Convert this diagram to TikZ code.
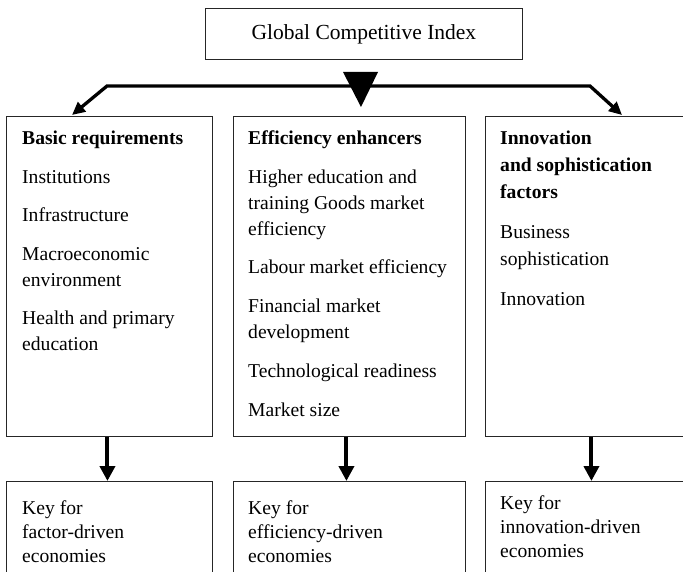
\documentclass[tikz,border=0pt]{standalone}
\usepackage{fontspec}
\setmainfont{Liberation Serif}
\usetikzlibrary{arrows.meta,calc}
\begin{document}
\begin{tikzpicture}[x=1pt,y=-1pt,
  box/.style={draw=black!85,line width=0.9pt,inner sep=0pt},
  txt/.style={anchor=north west,inner sep=0pt,align=left,font=\fontsize{19.6}{26}\selectfont},
  bus/.style={line width=3.3pt,line join=miter,{Triangle[length=13pt,width=12pt]}-{Triangle[length=13pt,width=12pt]}},
  down/.style={line width=4pt,-{Triangle[length=15pt,width=15pt]}}]
\clip (0,0) rectangle (683,572);
\fill[white] (0,0) rectangle (683,572);
% top box
\node[box,anchor=north west,minimum width=317pt,minimum height=51pt,font=\fontsize{21.5}{24}\selectfont] (T) at (205,8) {Global Competitive Index};
% pillar boxes
\node[box,anchor=north west,minimum width=206pt,minimum height=320pt] (A) at (6,116) {};
\node[box,anchor=north west,minimum width=232pt,minimum height=320pt] (B) at (233,116) {};
\node[box,anchor=north west,minimum width=212pt,minimum height=320pt] (C) at (485,116) {};
% key boxes
\node[box,anchor=north west,minimum width=206pt,minimum height=120pt] (A2) at (6,481) {};
\node[box,anchor=north west,minimum width=232pt,minimum height=120pt] (B2) at (233,481) {};
\node[box,anchor=north west,minimum width=212pt,minimum height=120pt] (C2) at (485,481) {};
% texts
\node[txt] (At) at (22,130.5) {\textbf{Basic requirements}\\[13pt]Institutions\\[12pt]Infrastructure\\[13pt]Macroeconomic\\environment\\[12pt]Health and primary\\education};
\node[txt] (Bt) at (248,130.5) {\textbf{Efficiency enhancers}\\[13pt]Higher education and\\training Goods market\\efficiency\\[12pt]Labour market efficiency\\[13pt]Financial market\\development\\[13pt]Technological readiness\\[13pt]Market size};
\node[txt,font=\fontsize{19.6}{27}\selectfont] (Ct) at (500,130.5) {\textbf{Innovation}\\\textbf{and sophistication}\\\textbf{factors}\\[13pt]Business\\sophistication\\[13pt]Innovation};
\node[txt,font=\fontsize{19.6}{24}\selectfont] (A2t) at (22,500) {Key for\\factor-driven\\economies};
\node[txt,font=\fontsize{19.6}{24}\selectfont] (B2t) at (248,500) {Key for\\efficiency-driven\\economies};
\node[txt,font=\fontsize{19.6}{24}\selectfont] (C2t) at (500,495.5) {Key for\\innovation-driven\\economies};
% distribution bus
\coordinate (lc) at (107,86);
\coordinate (rc) at (590,86);
\coordinate (ta) at (72,115);
\coordinate (tc) at (622,115);
\draw[bus] (ta) -- (lc) -- (rc) -- (tc);
\coordinate (tip) at (361,107);
\fill (343,72) -- (378,72) -- (tip) -- cycle;
% down arrows
\draw[down] ($(A.south)+(-2,0)$) -- ($(A2.north)+(-2,0)$);
\draw[down] ($(B.south)+(-3,0)$) -- ($(B2.north)+(-3,0)$);
\draw[down] (C.south) -- (C2.north);
\end{tikzpicture}
\end{document}
